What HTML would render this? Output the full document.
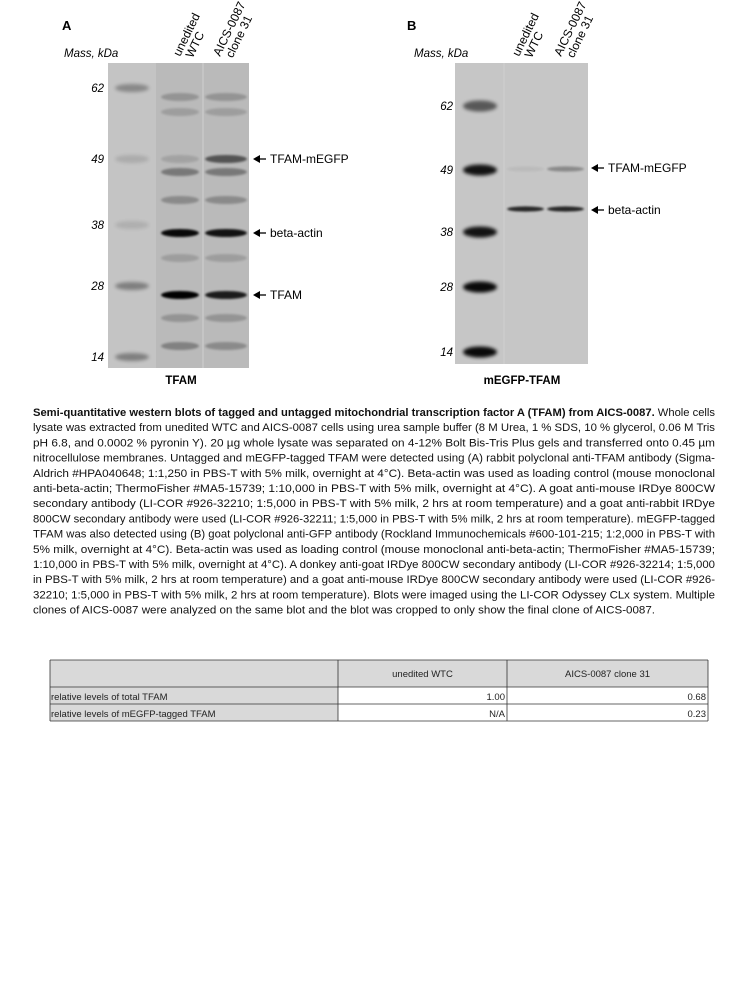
<!DOCTYPE html>
<html><head><meta charset="utf-8"><style>
html,body{margin:0;padding:0;background:#fff;}
svg{display:block;font-family:"Liberation Sans",sans-serif;}
</style></head><body>
<svg id="fig" width="750" height="1000" viewBox="0 0 750 1000">
<defs>
<filter id="b1" x="-50%" y="-200%" width="200%" height="500%"><feGaussianBlur stdDeviation="1.8"/></filter>
<filter id="b2" x="-50%" y="-200%" width="200%" height="500%"><feGaussianBlur stdDeviation="1.1"/></filter>
</defs>
<g id="panelA"></g>
<g id="panelB"></g>
<g id="caption" font-size="11" fill="#111"></g>
<g id="tbl" font-size="9.5" fill="#222"></g>
</svg>
<script>
// Marker ladder (kDa) and y positions read from the blots
const markerKDa = [62, 49, 38, 28, 14];
const markerYA = [88, 159, 225, 286, 357];
const markerYB = [106, 170, 232, 287, 352];
const markerDarkB = [0.55, 0.9, 0.9, 0.95, 0.95];
const markerDarkA = [0.3, 0.12, 0.1, 0.35, 0.35];
// Panel A bands: [y, WTC intensity, clone intensity]
const bandsA = [[233, 0.95, 0.9], [295, 1.0, 0.85], [159, 0.12, 0.55], [172, 0.35, 0.35], [200, 0.25, 0.25], [258, 0.15, 0.15], [318, 0.2, 0.2], [346, 0.3, 0.25], [97, 0.2, 0.2], [112, 0.15, 0.15]];
// Panel B bands
const bandsB = [[209, 0.8, 0.8], [169, 0.05, 0.3]];
const annotA = [["TFAM-mEGFP", 159], ["beta-actin", 233], ["TFAM", 295]];
const annotB = [["TFAM-mEGFP", 168], ["beta-actin", 210]];
// Table values
const tableCols = ["unedited WTC", "AICS-0087 clone 31"];
const tableRows = ["relative levels of total TFAM", "relative levels of mEGFP-tagged TFAM"];
const totalTFAM = ["1.00", "0.68"];
const taggedTFAM = ["N/A", "0.23"];

const NS = "http://www.w3.org/2000/svg";
function mk(tag, attrs, parent, txt) {
  const e = document.createElementNS(NS, tag);
  for (const k in attrs) e.setAttribute(k, attrs[k]);
  if (txt !== undefined) e.textContent = txt;
  parent.appendChild(e);
  return e;
}
function band(g, x, y, w, h, alpha, f) {
  const e = mk("ellipse", {cx: x + w / 2, cy: y, rx: w / 2, ry: h, fill: "#000", opacity: alpha, filter: f}, g);
  
  
}
function panel(g, o) {
  let t = mk("text", {x: o.lx, y: 30, "font-size": 13, "font-weight": "bold"}, g, o.letter);
  
  
  t = mk("text", {x: o.mx, y: 57, "font-size": 11.5, "font-style": "italic"}, g, "Mass, kDa");
  
  
  o.lanes.forEach(([x, l1, l2]) => {
    const lt = mk("text", {transform: `translate(${x},57) rotate(-64)`, "font-size": 12}, g);
    
    
    mk("tspan", {x: 0, y: 0}, lt, l1);
    mk("tspan", {x: 4, y: 12}, lt, l2);
  });
  const r = mk("rect", {x: o.x0, y: o.y0, width: o.x1 - o.x0, height: o.y1 - o.y0, fill: o.bg}, g);
  
  
  if (o.sampleBg) mk("rect", {x: o.sx, y: o.y0, width: o.x1 - o.sx, height: o.y1 - o.y0, fill: o.sampleBg}, g);
  if (o.divider) mk("line", {x1: o.divider, x2: o.divider, y1: o.y0, y2: o.y1, stroke: "#d0d0d0", "stroke-width": 1}, g);
  markerKDa.forEach((k, i) => {
    const y = o.my[i];
    const tt = mk("text", {x: o.tickX, y: y + 4, "font-size": 11.5, "font-style": "italic", "text-anchor": "end"}, g, String(k));
    
    
    band(g, o.mLane[0], y, o.mLane[1], o.mh, o.md[i], "url(#b1)");
  });
  o.bands.forEach(([y, a, b]) => {
    band(g, o.l1[0], y, o.l1[1], o.bh, a, "url(#b2)");
    band(g, o.l2[0], y, o.l2[1], o.bh, b, "url(#b2)");
  });
  o.annot.forEach(([s, y]) => {
    const ag = mk("g", {}, g);
    
    
    mk("polygon", {points: `${o.ax},${y} ${o.ax + 7},${y - 4} ${o.ax + 7},${y + 4}`, fill: "#000"}, ag);
    mk("line", {x1: o.ax + 6, x2: o.ax + 13, y1: y, y2: y, stroke: "#000", "stroke-width": 1.3}, ag);
    mk("text", {x: o.ax + 17, y: y + 4, "font-size": 12}, ag, s);
  });
  t = mk("text", {x: o.capX, y: 384, "font-size": 11.5, "font-weight": "bold", "text-anchor": "middle"}, g, o.cap);
  
  
}
panel(document.getElementById("panelA"), {
  letter: "A", lx: 62, mx: 64, x0: 108, x1: 249, y0: 63, y1: 368, bg: "#c4c4c4", sx: 156, sampleBg: "#bababa",
  divider: 203, tickX: 104, my: markerYA, md: markerDarkA, mLane: [115, 34], mh: 4,
  bands: bandsA, l1: [161, 38], l2: [205, 42], bh: 4, annot: annotA, ax: 253, capX: 181, cap: "TFAM",
  lanes: [[180, "unedited", "WTC"], [220, "AICS-0087", "clone 31"]]
});
panel(document.getElementById("panelB"), {
  letter: "B", lx: 407, mx: 414, x0: 455, x1: 588, y0: 63, y1: 364, bg: "#c6c6c6",
  divider: 504, tickX: 453, my: markerYB, md: markerDarkB, mLane: [463, 34], mh: 5.5,
  bands: bandsB, l1: [507, 37], l2: [547, 37], bh: 2.6, annot: annotB, ax: 591, capX: 522, cap: "mEGFP-TFAM",
  lanes: [[519, "unedited", "WTC"], [561, "AICS-0087", "clone 31"]]
});

const lines = [
 "lysate was extracted from unedited WTC and AICS-0087 cells using urea sample buffer (8 M Urea, 1 % SDS, 10 % glycerol, 0.06 M Tris",
 "pH 6.8, and 0.0002 % pyronin Y). 20 µg whole lysate was separated on 4-12% Bolt Bis-Tris Plus gels and transferred onto 0.45 µm",
 "nitrocellulose membranes. Untagged and mEGFP-tagged TFAM were detected using (A) rabbit polyclonal anti-TFAM antibody (Sigma-",
 "Aldrich #HPA040648; 1:1,250 in PBS-T with 5% milk, overnight at 4°C). Beta-actin was used as loading control (mouse monoclonal",
 "anti-beta-actin; ThermoFisher #MA5-15739; 1:10,000 in PBS-T with 5% milk, overnight at 4°C). A goat anti-mouse IRDye 800CW",
 "secondary antibody (LI-COR #926-32210; 1:5,000 in PBS-T with 5% milk, 2 hrs at room temperature) and a goat anti-rabbit IRDye",
 "800CW secondary antibody were used (LI-COR #926-32211; 1:5,000 in PBS-T with 5% milk, 2 hrs at room temperature). mEGFP-tagged",
 "TFAM was also detected using (B) goat polyclonal anti-GFP antibody (Rockland Immunochemicals #600-101-215; 1:2,000 in PBS-T with",
 "5% milk, overnight at 4°C). Beta-actin was used as loading control (mouse monoclonal anti-beta-actin; ThermoFisher #MA5-15739;",
 "1:10,000 in PBS-T with 5% milk, overnight at 4°C). A donkey anti-goat IRDye 800CW secondary antibody (LI-COR #926-32214; 1:5,000",
 "in PBS-T with 5% milk, 2 hrs at room temperature) and a goat anti-mouse IRDye 800CW secondary antibody were used (LI-COR #926-",
 "32210; 1:5,000 in PBS-T with 5% milk, 2 hrs at room temperature). Blots were imaged using the LI-COR Odyssey CLx system. Multiple",
 "clones of AICS-0087 were analyzed on the same blot and the blot was cropped to only show the final clone of AICS-0087."
];
const cap = document.getElementById("caption");
const l1 = mk("text", {x: 33, y: 416, textLength: 682, lengthAdjust: "spacingAndGlyphs"}, cap);
mk("tspan", {"font-weight": "bold"}, l1, "Semi-quantitative western blots of tagged and untagged mitochondrial transcription factor A (TFAM) from AICS-0087.");
mk("tspan", {}, l1, " Whole cells");
lines.forEach((s, i) => {
  const last = i === lines.length - 1;
  mk("text", {x: 33, y: 416 + (i + 1) * 15.2, textLength: last ? 622 : 682, lengthAdjust: "spacingAndGlyphs"}, cap, s);
});

const tb = document.getElementById("tbl");
const cx = [50, 338, 507, 708], ry = [660, 687, 704, 721];
mk("rect", {x: 50, y: 660, width: 288, height: 61, fill: "#d9d9d9"}, tb);
mk("rect", {x: 338, y: 660, width: 370, height: 27, fill: "#d9d9d9"}, tb);
ry.forEach(y => mk("line", {x1: 50, x2: 708, y1: y, y2: y, stroke: "#333", "stroke-width": 0.8}, tb));
cx.forEach(x => mk("line", {x1: x, x2: x, y1: 660, y2: 721, stroke: "#333", "stroke-width": 0.8}, tb));
tableCols.forEach((c, i) => {
  const t = mk("text", {x: (cx[i + 1] + cx[i + 2]) / 2, y: 677, "text-anchor": "middle"}, tb, c);
  
  
});
[totalTFAM, taggedTFAM].forEach((vals, r) => {
  const t = mk("text", {x: 51, y: ry[r + 1] + 13}, tb, tableRows[r]);
  
  
  vals.forEach((v, i) => {
    const c = mk("text", {x: cx[i + 2] - 2, y: ry[r + 1] + 13, "text-anchor": "end"}, tb, v);
    
    
  });
});
</script>
</body></html>
